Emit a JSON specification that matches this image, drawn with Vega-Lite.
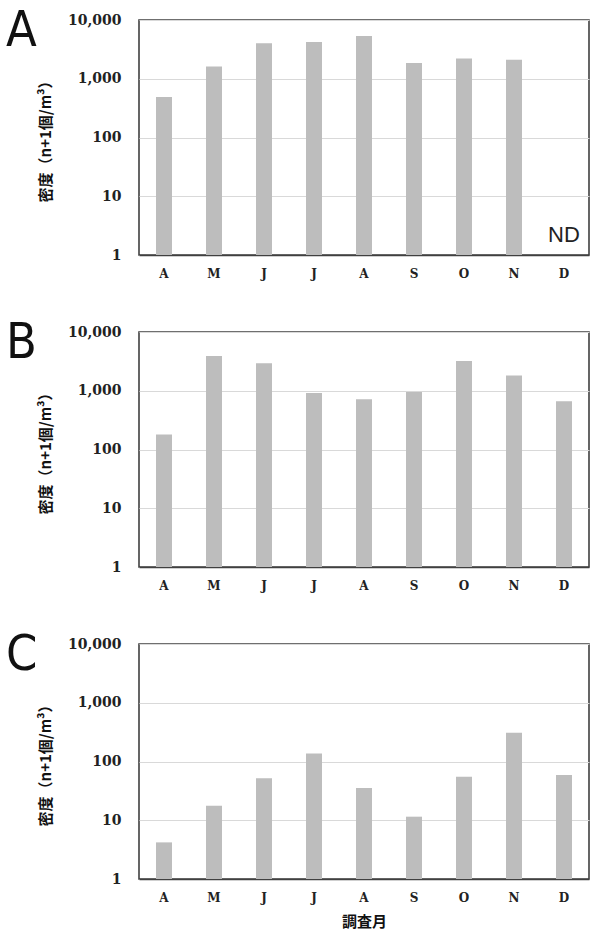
{
  "$schema": "https://vega.github.io/schema/vega-lite/v6.json",
  "padding": {"left": 5, "top": 5, "right": 6, "bottom": 3},
  "background": "white",
  "datasets": {
    "a": [
      {"month": "Apr", "density": 490},
      {"month": "May", "density": 1620},
      {"month": "Jun", "density": 4030},
      {"month": "Jul", "density": 4240},
      {"month": "Aug", "density": 5350},
      {"month": "Sep", "density": 1850},
      {"month": "Oct", "density": 2210},
      {"month": "Nov", "density": 2100}
    ],
    "nd": [
      {"month": "Dec", "label": "ND"}
    ],
    "b": [
      {"month": "Apr", "density": 180},
      {"month": "May", "density": 3920},
      {"month": "Jun", "density": 2950},
      {"month": "Jul", "density": 915},
      {"month": "Aug", "density": 720},
      {"month": "Sep", "density": 950},
      {"month": "Oct", "density": 3220},
      {"month": "Nov", "density": 1810},
      {"month": "Dec", "density": 660}
    ],
    "c": [
      {"month": "Apr", "density": 4.2},
      {"month": "May", "density": 17.7},
      {"month": "Jun", "density": 52},
      {"month": "Jul", "density": 137},
      {"month": "Aug", "density": 35.5},
      {"month": "Sep", "density": 11.5},
      {"month": "Oct", "density": 55},
      {"month": "Nov", "density": 309},
      {"month": "Dec", "density": 59}
    ]
  },
  "config": {
    "view": {"stroke": "#404040", "strokeWidth": 1.6},
    "concat": {"spacing": 37},
    "axis": {
      "labelFont": "DejaVu Serif",
      "labelFontWeight": "bold",
      "labelColor": "#222222",
      "titleFont": "Noto Sans CJK JP",
      "titleFontWeight": "bold",
      "titleColor": "#111111",
      "ticks": false
    },
    "axisX": {
      "domainColor": "#404040",
      "domainWidth": 1.6,
      "grid": false,
      "labelAngle": 0,
      "labelFontSize": 12,
      "labelPadding": 13,
      "titleFontSize": 15,
      "titlePadding": 11
    },
    "axisY": {
      "domain": false,
      "gridColor": "#d9d9d9",
      "gridWidth": 1,
      "labelFontSize": 14,
      "labelPadding": 18,
      "titleFontSize": 15,
      "titlePadding": 14
    },
    "title": {
      "font": "DejaVu Sans Condensed, Liberation Sans Narrow, sans-serif",
      "fontSize": 50,
      "fontWeight": "normal",
      "color": "#111111",
      "anchor": "start",
      "frame": "group",
      "baseline": "alphabetic",
      "offset": -43,
      "dx": -133
    }
  },
  "vconcat": [
    {
      "title": "A",
      "width": 450,
      "height": 235,
      "layer": [
        {
          "data": {"name": "a"},
          "mark": {"type": "bar", "color": "#bdbdbd", "width": 16},
          "encoding": {
            "x": {
              "field": "month", "type": "nominal",
              "sort": ["Apr","May","Jun","Jul","Aug","Sep","Oct","Nov","Dec"],
              "scale": {"domain": ["Apr","May","Jun","Jul","Aug","Sep","Oct","Nov","Dec"], "paddingInner": 0, "paddingOuter": 0},
              "axis": {"title": null, "labelExpr": "slice(datum.label, 0, 1)"}
            },
            "y": {
              "field": "density", "type": "quantitative",
              "scale": {"type": "log", "domain": [1, 10000]},
              "axis": {"title": "密度（n+1個/m³）", "values": [1, 10, 100, 1000, 10000], "format": ","}
            },
            "y2": {"datum": 1}
          }
        },
        {
          "data": {"name": "nd"},
          "mark": {"type": "text", "font": "Liberation Sans, sans-serif", "fontSize": 22, "color": "#222222", "baseline": "middle"},
          "encoding": {
            "x": {"field": "month", "type": "nominal", "sort": ["Apr","May","Jun","Jul","Aug","Sep","Oct","Nov","Dec"]},
            "y": {"datum": 2.2, "type": "quantitative"},
            "text": {"field": "label"}
          }
        }
      ]
    },
    {
      "title": "B",
      "width": 450,
      "height": 235,
      "data": {"name": "b"},
      "mark": {"type": "bar", "color": "#bdbdbd", "width": 16},
      "encoding": {
        "x": {
          "field": "month", "type": "nominal",
          "sort": ["Apr","May","Jun","Jul","Aug","Sep","Oct","Nov","Dec"],
          "scale": {"domain": ["Apr","May","Jun","Jul","Aug","Sep","Oct","Nov","Dec"], "paddingInner": 0, "paddingOuter": 0},
          "axis": {"title": null, "labelExpr": "slice(datum.label, 0, 1)"}
        },
        "y": {
          "field": "density", "type": "quantitative",
          "scale": {"type": "log", "domain": [1, 10000]},
          "axis": {"title": "密度（n+1個/m³）", "values": [1, 10, 100, 1000, 10000], "format": ","}
        },
        "y2": {"datum": 1}
      }
    },
    {
      "title": "C",
      "width": 450,
      "height": 235,
      "data": {"name": "c"},
      "mark": {"type": "bar", "color": "#bdbdbd", "width": 16},
      "encoding": {
        "x": {
          "field": "month", "type": "nominal",
          "sort": ["Apr","May","Jun","Jul","Aug","Sep","Oct","Nov","Dec"],
          "scale": {"domain": ["Apr","May","Jun","Jul","Aug","Sep","Oct","Nov","Dec"], "paddingInner": 0, "paddingOuter": 0},
          "axis": {"title": "調査月", "labelExpr": "slice(datum.label, 0, 1)"}
        },
        "y": {
          "field": "density", "type": "quantitative",
          "scale": {"type": "log", "domain": [1, 10000]},
          "axis": {"title": "密度（n+1個/m³）", "values": [1, 10, 100, 1000, 10000], "format": ","}
        },
        "y2": {"datum": 1}
      }
    }
  ]
}
